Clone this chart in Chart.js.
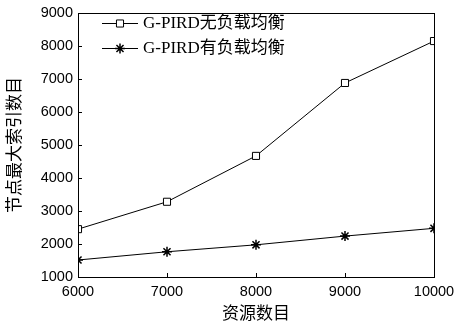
<!DOCTYPE html>
<html>
<head>
<meta charset="utf-8">
<script src="https://cdn.jsdelivr.net/npm/chart.js@4"></script>
<style>
  html, body { margin: 0; padding: 0; background: #fff; }
</style>
</head>
<body>
<canvas id="grafico" width="457" height="327"></canvas>
<script>
// dados
var recursos = [6000, 7000, 8000, 9000, 10000]
var semBalanceamento = [2450, 3280, 4670, 6880, 8150]
var comBalanceamento = [1515, 1765, 1975, 2240, 2475]
var nomes = ['G-PIRD无负载均衡', 'G-PIRD有负载均衡']
var ticksX = [6000, 7000, 8000, 9000, 10000]
var ticksY = [1000, 2000, 3000, 4000, 5000, 6000, 7000, 8000, 9000]

var fonteNum = '"Liberation Sans", Arial, sans-serif'
var fonteTxt = '"Liberation Serif", "Noto Sans CJK SC", serif'

function pontos(ys) {
    return recursos.map(function (x, i) { return { x: x, y: ys[i] } })
}

// moldura, ticks para dentro e legenda
var extras = {
    id: 'extras',
    afterDraw: function (chart) {
        var c = chart.ctx
        var a = chart.chartArea
        var sx = chart.scales.x
        var sy = chart.scales.y
        c.save()
        c.strokeStyle = '#000'
        c.lineWidth = 1
        c.strokeRect(Math.round(a.left) + 0.5, Math.round(a.top) + 0.5,
            Math.round(a.right - a.left), Math.round(a.bottom - a.top))
        c.beginPath()
        ticksX.forEach(function (v) {
            var px = Math.round(sx.getPixelForValue(v)) + 0.5
            c.moveTo(px, a.bottom)
            c.lineTo(px, a.bottom - 4)
        })
        ticksY.forEach(function (v) {
            var py = Math.round(sy.getPixelForValue(v)) + 0.5
            c.moveTo(a.left, py)
            c.lineTo(a.left + 4, py)
        })
        c.stroke()

        // legenda
        var x0 = Math.round(a.left) + 24
        var x1 = Math.round(a.left) + 60
        chart.data.datasets.forEach(function (ds, i) {
            var y = Math.round(a.top) + 10 + i * 25
            c.fillStyle = '#000'
            c.fillRect(x0, y, x1 - x0, 1)
            c.fillStyle = ds.pointBackgroundColor
            c.strokeStyle = '#000'
            c.lineWidth = ds.pointBorderWidth
            Chart.helpers.drawPoint(c, {
                pointStyle: ds.pointStyle,
                radius: ds.pointRadius,
                borderWidth: ds.pointBorderWidth
            }, (x0 + x1) / 2, y + 0.5)
            c.fillStyle = '#000'
            c.font = '17px ' + fonteTxt
            c.textBaseline = 'middle'
            c.textAlign = 'left'
            c.fillText(ds.label, x1 + 5, y + 1)
        })
        c.restore()
    }
}

var meuGrafico = new Chart(document.getElementById('grafico'), {
    type: 'line',
    data: {
        datasets: [{
            label: nomes[0],
            data: pontos(semBalanceamento),
            borderColor: '#000',
            borderWidth: 1,
            pointStyle: 'rect',
            pointRadius: 5,
            pointBorderWidth: 1,
            pointBackgroundColor: '#fff',
            pointBorderColor: '#000'
        }, {
            label: nomes[1],
            data: pontos(comBalanceamento),
            borderColor: '#000',
            borderWidth: 1,
            pointStyle: 'star',
            pointRadius: 5,
            pointBorderWidth: 1.5,
            pointBackgroundColor: '#000',
            pointBorderColor: '#000'
        }]
    },
    options: {
        responsive: false,
        animation: false,
        layout: { padding: { left: 0, right: 23, top: 13, bottom: 0 } },
        plugins: {
            legend: { display: false },
            tooltip: { enabled: false }
        },
        scales: {
            x: {
                type: 'linear',
                min: 6000,
                max: 10000,
                afterBuildTicks: function (s) { s.ticks = ticksX.map(function (v) { return { value: v } }) },
                afterFit: function (s) { s.height = 50; s.paddingLeft = 0; s.paddingRight = 0 },
                grid: { display: false, drawTicks: false },
                border: { display: true, color: '#000', width: 1 },
                ticks: {
                    color: '#000',
                    padding: 6,
                    maxRotation: 0,
                    font: { family: fonteNum, size: 14.5 },
                    callback: function (v) { return String(v) }
                },
                title: {
                    display: true,
                    text: '资源数目',
                    color: '#000',
                    padding: { top: 0, bottom: 2 },
                    font: { family: fonteTxt, size: 17 }
                }
            },
            y: {
                min: 1000,
                max: 9000,
                afterBuildTicks: function (s) { s.ticks = ticksY.map(function (v) { return { value: v } }) },
                afterFit: function (s) { s.width = 78; s.paddingTop = 0; s.paddingBottom = 0 },
                grid: { display: false, drawTicks: false },
                border: { display: true, color: '#000', width: 1 },
                ticks: {
                    color: '#000',
                    padding: 5,
                    font: { family: fonteNum, size: 14.5 },
                    callback: function (v) { return String(v) }
                },
                title: {
                    display: true,
                    text: '节点最大索引数目',
                    color: '#000',
                    padding: { top: 5, bottom: 0 },
                    font: { family: fonteTxt, size: 17 }
                }
            }
        }
    },
    plugins: [extras]
})
</script>
</body>
</html>
